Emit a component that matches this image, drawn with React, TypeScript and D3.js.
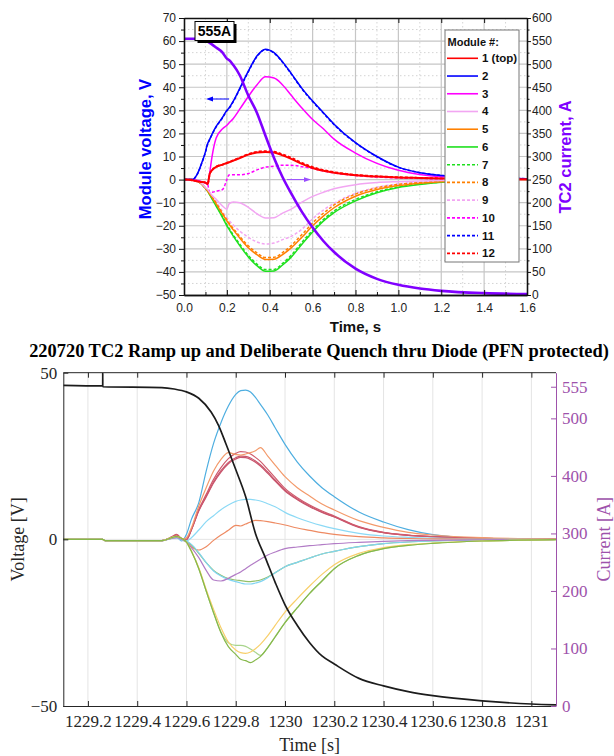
import * as d3 from "d3";
import React, { useEffect, useRef } from "react";

// ---------- top chart: module voltages (V) and TC2 current (A) vs time (s) ----------
const timeTop = [0, 0.04, 0.06, 0.08, 0.1, 0.11, 0.12, 0.13, 0.15, 0.18, 0.2, 0.21, 0.23, 0.26, 0.3, 0.34, 0.38, 0.42, 0.46, 0.5, 0.55, 0.6, 0.65, 0.7, 0.8, 0.9, 1.0, 1.1, 1.2, 1.4, 1.6];

const mod1 = [0, -0.3, -0.7, -1, -1.3, -2, 2.5, 4, 5.5, 6.5, 7.2, 7.5, 8.2, 9.3, 10.8, 11.7, 12, 11.7, 10.5, 9, 6.8, 5, 3.8, 3, 1.9, 1.3, 0.9, 0.7, 0.5, 0.3, 0.1];
const mod2 = [0, 0, 2, 6.5, 12, 15.5, 17.5, 19.5, 23, 27, 30, 31, 34, 39.5, 47, 53.5, 56.5, 55, 51, 46, 39.5, 34, 29, 24, 16, 10, 5.4, 3, 1.8, 0.8, 0.4];
const mod3 = [0, 0, -0.3, -0.8, -1.5, -2, 3, 9.5, 18, 22, 23.5, 24.5, 26.5, 30.5, 36, 41, 44.5, 44, 41, 36.5, 31, 26, 22, 17.5, 11.5, 7, 4, 2.2, 1.2, 0.5, 0.3];
const mod4 = [0, 0, -0.5, -1.5, -3.5, -4.3, -5.5, -6.8, -8.5, -11.5, -12.8, -10.5, -9.7, -10, -12, -14.8, -16.6, -16.5, -14.5, -12.8, -9.8, -7.3, -5.5, -4, -2.2, -1.3, -0.9, -0.6, -0.4, -0.2, -0.1];
const mod5 = [0, 0, -0.5, -1.8, -3.8, -5, -6.3, -7.6, -10.5, -15, -17.9, -19.3, -21.8, -25.3, -29.5, -32.5, -34.6, -34.5, -32.5, -29.6, -25, -20, -15.8, -12.2, -7.2, -4.3, -2.6, -1.6, -0.9, -0.4, -0.2];
const mod6 = [0, 0, -0.5, -1.8, -3.8, -5, -6.6, -8.2, -11.5, -16.5, -20, -21.5, -24.5, -28.6, -33.5, -37.3, -39.7, -39.6, -37, -33.6, -28, -22.7, -18, -14.3, -9.2, -5.7, -3.4, -2.1, -1.2, -0.5, -0.2];
const mod7 = [0, 0, -0.5, -1.7, -3.7, -4.9, -6.4, -8, -11.2, -16.1, -19.6, -21, -24, -28, -32.8, -36.6, -39, -38.9, -36.3, -32.8, -27.2, -22, -17.3, -13.6, -8.6, -5.3, -3.1, -1.9, -1.1, -0.5, -0.2];
const mod8 = [0, 0, -0.5, -1.7, -3.7, -4.9, -6.2, -7.4, -10.2, -14.6, -17.4, -18.8, -21.2, -24.6, -28.7, -31.7, -33.8, -33.7, -31.6, -28.6, -23.8, -18.8, -14.6, -11, -6.3, -3.6, -2.1, -1.3, -0.8, -0.4, -0.2];
const mod9 = [0, 0, -0.5, -1.8, -3.8, -4.6, -5.8, -7.2, -9.6, -14, -16.5, -17.7, -19.7, -22.3, -25, -27, -27.9, -27.5, -26, -24.6, -21.5, -17, -13.2, -10.3, -6, -3.3, -1.9, -1.1, -0.7, -0.3, -0.1];
const mod10 = [0, -0.3, -0.7, -1, -1.3, -2, -5.5, -5.5, -5, -4.3, 0, 2, 2.1, 2.1, 2.6, 4.2, 5.4, 5.8, 6.2, 6.2, 5.6, 4.8, 3.7, 2.9, 1.8, 1.1, 0.7, 0.5, 0.3, 0.2, 0.1];
const mod11 = [0, 0, 2, 6.4, 11.8, 15.3, 17.3, 19.3, 22.8, 26.8, 29.8, 30.8, 33.8, 39.2, 46.7, 53.2, 56.3, 54.8, 50.8, 45.8, 39.3, 33.8, 28.8, 23.8, 15.9, 9.9, 5.3, 3, 1.8, 0.8, 0.4];
const mod12 = [0, -0.3, -0.7, -1, -1.3, -2, 2.5, 4, 5.5, 6.5, 7.2, 7.6, 8.3, 9.5, 11, 12, 12.3, 12.1, 10.9, 9.4, 7.2, 5.4, 4.1, 3.2, 2, 1.4, 1, 0.7, 0.5, 0.3, 0.1];
const currentTop = [555, 555, 555, 554, 551, 549, 546, 543, 536, 525, 512, 509, 498, 476, 432, 395, 345, 297, 255, 220, 180, 146, 117, 93, 57, 35, 22, 14, 9, 4, 2];

const moduleLabels = ["1 (top)", "2", "3", "4", "5", "6", "7", "8", "9", "10", "11", "12"];
const topTicksX = [0, 0.2, 0.4, 0.6, 0.8, 1.0, 1.2, 1.4, 1.6];
const topTicksV = [-50, -40, -30, -20, -10, 0, 10, 20, 30, 40, 50, 60, 70];
const topTicksI = [0, 50, 100, 150, 200, 250, 300, 350, 400, 450, 500, 550, 600];

// ---------- bottom chart: 220720 TC2 quench ----------
const timeBot = [1229.1, 1229.26, 1229.27, 1229.5, 1229.54, 1229.56, 1229.58, 1229.6, 1229.62, 1229.65, 1229.68, 1229.71, 1229.74, 1229.77, 1229.8, 1229.82, 1229.84, 1229.86, 1229.88, 1229.9, 1229.93, 1229.96, 1230.0, 1230.05, 1230.1, 1230.15, 1230.2, 1230.3, 1230.4, 1230.5, 1230.6, 1230.8, 1231.1];

const bBlue = [0, 0, -0.4, -0.4, 0.5, 0.8, -0.5, 1.5, 6, 11, 20.5, 28.8, 35, 40, 43.5, 44.6, 44.8, 44.2, 42.6, 40.5, 37.3, 33.5, 28.5, 23.2, 19, 15.5, 12.8, 8.2, 5.2, 2.9, 1.4, 0.3, 0.05];
const bOrangeHi = [0, 0, -0.4, -0.4, 0.6, 1.0, 0, 0.5, 3.5, 10, 15.5, 20.5, 24, 26, 25.5, 25.3, 25.6, 26, 26.6, 27.5, 25, 22.3, 18.8, 15.5, 13, 10.6, 8.8, 5.6, 3.6, 2.1, 1.3, 0.5, 0.1];
const bRed1 = [0, 0, -0.4, -0.4, 0.8, 1.5, 0.3, 0, 3, 9, 13.5, 18, 21.5, 24.2, 25.8, 26.3, 26.2, 25.6, 24.6, 23.4, 21, 18.5, 15.3, 12.5, 10.3, 8.5, 7, 3.8, 2.1, 1.3, 0.8, 0.3, 0.05];
const bRed2 = [0, 0, -0.4, -0.4, 0.7, 1.3, 0.2, 0, 2.9, 8.7, 13, 17.3, 20.6, 23.1, 24.5, 25, 24.9, 24.4, 23.5, 22.4, 20.2, 17.8, 14.8, 12.1, 10, 8.2, 6.8, 3.7, 2, 1.2, 0.8, 0.3, 0.05];
const bRed3 = [0, 0, -0.4, -0.4, 0.6, 1.2, 0.1, -0.1, 2.8, 8.5, 12.7, 16.9, 20.2, 22.7, 24.1, 24.6, 24.5, 24, 23.1, 22, 19.8, 17.5, 14.5, 11.9, 9.8, 8.1, 6.7, 3.6, 2, 1.2, 0.8, 0.3, 0.05];
const bCyanHi = [0, 0, -0.4, -0.4, 0.3, 0.5, -0.3, -0.5, 0.5, 2.8, 5.3, 7.1, 8.9, 10.3, 11.4, 11.8, 12, 12, 11.8, 11.5, 10.7, 9.8, 8.1, 6.5, 5.2, 4.1, 3.2, 1.8, 1, 0.6, 0.35, 0.1, 0];
const bOrangeLo = [0, 0, -0.4, -0.4, 0.5, 0.8, 0, -0.8, -2.2, -3.2, -2.2, -0.3, 1.3, 2.7, 4.2, 4.0, 4.6, 5.2, 5.7, 5.6, 5.3, 4.9, 4.3, 3.4, 2.7, 2.0, 1.5, 0.8, 0.45, 0.25, 0.15, 0.05, 0];
const bPurple = [0, 0, -0.4, -0.4, 0.3, 0.5, 0, -0.8, -2.5, -5.5, -9.3, -12.2, -12.5, -11.7, -10.5, -9.8, -8.8, -7.8, -6.9, -6, -4.7, -3.8, -2.8, -2.3, -1.9, -1.6, -1.3, -0.9, -0.6, -0.4, -0.3, -0.15, -0.05];
const bCyanLo = [0, 0, -0.4, -0.4, 0.3, 0.4, -0.2, -0.5, -1.5, -4, -7, -9.5, -11, -12, -12.7, -13.1, -13.4, -13.4, -13.1, -12.7, -11.5, -10, -8.2, -6.9, -5.6, -4.4, -3.6, -2.2, -1.3, -0.8, -0.5, -0.2, -0.05];
const bOlive = [0, 0, -0.4, -0.4, 0.5, 0.8, 0.1, -0.6, -1.7, -4.2, -7, -9.3, -10.8, -11.8, -12.2, -12.4, -12.6, -12.7, -12.5, -12.2, -11.3, -10, -8.2, -6.9, -5.6, -4.4, -3.6, -2.2, -1.3, -0.8, -0.5, -0.2, -0.05];
const bYellow = [0, 0, -0.4, -0.4, 0.5, 0.9, 0.3, -0.8, -3.5, -8.5, -15, -21, -26.5, -30.8, -33.2, -34, -34.2, -33.8, -32.8, -31.5, -28.9, -25.8, -21.8, -17.8, -14, -10.5, -7.6, -4.2, -2.5, -1.6, -1.1, -0.5, -0.1];
const bGreen = [0, 0, -0.4, -0.4, 0.5, 0.9, 0.3, -0.8, -3.6, -8.8, -15.5, -22, -28, -32.2, -34.5, -36, -36.4, -37, -36.2, -35.2, -32.5, -29.3, -25, -20.5, -16.2, -12.5, -8.8, -4.8, -2.8, -1.8, -1.2, -0.5, -0.1];
const bLightGreen = [0, 0, -0.4, -0.4, 0.5, 0.9, 0.3, -0.8, -3.6, -8.8, -15.5, -22, -27.8, -31, -31.8, -31.8, -32.1, -32.9, -33.9, -34.8, -32.4, -29.2, -25, -20.5, -16.2, -12.5, -8.8, -4.8, -2.8, -1.8, -1.2, -0.5, -0.1];

const timeCur = [1229.1, 1229.26, 1229.2601, 1229.2602, 1229.5, 1229.55, 1229.6, 1229.65, 1229.7, 1229.73, 1229.76, 1229.8, 1229.84, 1229.88, 1229.92, 1229.96, 1230.0, 1230.05, 1230.1, 1230.15, 1230.2, 1230.3, 1230.4, 1230.5, 1230.6, 1230.8, 1231.0, 1231.1];
const currentBot = [557.5, 556.5, 579, 555, 553.5, 551, 546, 535, 511, 488, 456, 411, 364, 300, 258, 215, 176, 140, 110, 87, 73, 48, 35, 25, 18, 9, 3.5, 2];

const botTicksX = [1229.2, 1229.4, 1229.6, 1229.8, 1230, 1230.2, 1230.4, 1230.6, 1230.8, 1231];
const botTicksV = [-50, 0, 50];
const botTicksI = [0, 100, 200, 300, 400, 500, 555];

const SANS = "'Liberation Sans', Arial, sans-serif";
const SERIF = "'Liberation Serif', 'Times New Roman', serif";

function drawTop(svg) {
  const L = 184, R = 527, T = 18, B = 295;
  const x = d3.scaleLinear().domain([0, 1.6]).range([L, R]);
  const yV = d3.scaleLinear().domain([-50, 70]).range([B, T]);
  const yI = d3.scaleLinear().domain([0, 600]).range([B, T]);

  const g = svg.append("g");

  // grid: minor dotted, major solid
  g.selectAll(".minx").data(d3.range(1, 16, 2).map((d) => d / 10)).join("line")
    .attr("x1", (d) => x(d)).attr("x2", (d) => x(d)).attr("y1", T).attr("y2", B)
    .attr("stroke", "#d4d4d4").attr("stroke-dasharray", "1.5,2.5");
  g.selectAll(".miny").data(d3.range(-45, 70, 10)).join("line")
    .attr("x1", L).attr("x2", R).attr("y1", (d) => yV(d)).attr("y2", (d) => yV(d))
    .attr("stroke", "#d4d4d4").attr("stroke-dasharray", "1.5,2.5");
  g.selectAll(".majx").data(topTicksX.slice(1, -1)).join("line")
    .attr("x1", (d) => x(d)).attr("x2", (d) => x(d)).attr("y1", T).attr("y2", B)
    .attr("stroke", "#c6c6c6").attr("stroke-width", 1.2);
  g.selectAll(".majy").data(topTicksV.slice(1, -1)).join("line")
    .attr("x1", L).attr("x2", R).attr("y1", (d) => yV(d)).attr("y2", (d) => yV(d))
    .attr("stroke", "#c6c6c6").attr("stroke-width", 1.2);

  // clip
  svg.append("defs").append("clipPath").attr("id", "clipTop")
    .append("rect").attr("x", L).attr("y", T).attr("width", R - L).attr("height", B - T);

  const series = [
    { v: mod1, c: "#ff0000", dash: null, w: 2 },
    { v: mod2, c: "#0000ff", dash: null, w: 1.5 },
    { v: mod3, c: "#ff00ff", dash: null, w: 1.5 },
    { v: mod4, c: "#f2a6f2", dash: null, w: 1.5 },
    { v: mod5, c: "#ff8000", dash: null, w: 1.5 },
    { v: mod6, c: "#1ee01e", dash: null, w: 1.5 },
    { v: mod7, c: "#1ee01e", dash: "3,2", w: 1.5 },
    { v: mod8, c: "#ff8000", dash: "3,2", w: 1.5 },
    { v: mod9, c: "#f2a6f2", dash: "3,2", w: 1.5 },
    { v: mod10, c: "#ff00ff", dash: "3,2", w: 1.5 },
    { v: mod11, c: "#0000ff", dash: "3,2", w: 1.5 },
    { v: mod12, c: "#ff0000", dash: "3,2", w: 2 },
  ];

  const lineV = d3.line().x((d, i) => x(timeTop[i])).y((d) => yV(d)).curve(d3.curveMonotoneX);
  const lines = g.append("g").attr("clip-path", "url(#clipTop)");
  series.slice().reverse().forEach((s) => {
    lines.append("path").attr("d", lineV(s.v)).attr("fill", "none")
      .attr("stroke", s.c).attr("stroke-width", s.w)
      .attr("stroke-dasharray", s.dash);
  });
  const lineI = d3.line().x((d, i) => x(timeTop[i])).y((d) => yI(d)).curve(d3.curveMonotoneX);
  lines.append("path").attr("d", lineI(currentTop)).attr("fill", "none")
    .attr("stroke", "#8000ff").attr("stroke-width", 2.6);

  // axes
  const font = (sel) => sel.selectAll("text").attr("font-family", SANS).attr("font-size", 12).attr("fill", "#222");
  const dark = (sel) => { sel.selectAll("line").attr("stroke", "#111"); sel.select(".domain").attr("stroke", "#111").attr("stroke-width", 1.3); };

  const ax = g.append("g").attr("transform", `translate(0,${B})`)
    .call(d3.axisBottom(x).tickValues(topTicksX).tickFormat(d3.format(".1f")).tickSize(-5).tickSizeOuter(0).tickPadding(8));
  font(ax); dark(ax);
  g.append("g").attr("transform", `translate(0,${B})`)
    .call(d3.axisBottom(x).tickValues(d3.range(1, 16, 2).map((d) => d / 10)).tickFormat(() => "").tickSize(-3).tickSizeOuter(0))
    .call(dark);
  g.append("g").attr("transform", `translate(0,${T})`)
    .call(d3.axisTop(x).tickValues(topTicksX).tickFormat(() => "").tickSize(-5).tickSizeOuter(0))
    .call(dark);

  const ayl = g.append("g").attr("transform", `translate(${L},0)`)
    .call(d3.axisLeft(yV).tickValues(topTicksV).tickSize(5).tickSizeOuter(0).tickPadding(3));
  font(ayl); dark(ayl);
  g.append("g").attr("transform", `translate(${L},0)`)
    .call(d3.axisLeft(yV).tickValues(d3.range(-45, 70, 10)).tickFormat(() => "").tickSize(3).tickSizeOuter(0))
    .call(dark);

  const ayr = g.append("g").attr("transform", `translate(${R},0)`)
    .call(d3.axisRight(yI).tickValues(topTicksI).tickSize(4).tickSizeOuter(0).tickPadding(1));
  font(ayr); dark(ayr);
  g.append("g").attr("transform", `translate(${R},0)`)
    .call(d3.axisRight(yI).tickValues(d3.range(25, 600, 50)).tickFormat(() => "").tickSize(2.5).tickSizeOuter(0))
    .call(dark);

  // axis titles
  g.append("text").attr("transform", "translate(151,149) rotate(-90)").attr("text-anchor", "middle")
    .attr("font-family", SANS).attr("font-weight", "bold").attr("font-size", 16.5).attr("fill", "#0000ff")
    .text("Module voltage, V");
  g.append("text").attr("transform", "translate(571,157) rotate(-90)").attr("text-anchor", "middle")
    .attr("font-family", SANS).attr("font-weight", "bold").attr("font-size", 16.5).attr("fill", "#8000ff")
    .text("TC2 current, A");
  g.append("text").attr("x", (L + R) / 2).attr("y", 332).attr("text-anchor", "middle")
    .attr("font-family", SANS).attr("font-weight", "bold").attr("font-size", 15).attr("fill", "#111")
    .text("Time, s");

  // 555A box
  g.append("rect").attr("x", 197.5).attr("y", 24).attr("width", 39).attr("height", 19).attr("fill", "#000");
  g.append("rect").attr("x", 195).attr("y", 21.5).attr("width", 39).attr("height", 19)
    .attr("fill", "#fff").attr("stroke", "#000").attr("stroke-width", 1);
  g.append("text").attr("x", 214.5).attr("y", 36).attr("text-anchor", "middle")
    .attr("font-family", SANS).attr("font-weight", "bold").attr("font-size", 14).attr("fill", "#000").text("555A");

  // arrows (which axis each group belongs to)
  g.append("line").attr("x1", 229).attr("x2", 211).attr("y1", 99).attr("y2", 99).attr("stroke", "#0000ff");
  g.append("path").attr("d", "M206,99L213,96.6L213,101.4Z").attr("fill", "#0000ff");
  g.append("line").attr("x1", 287).attr("x2", 306).attr("y1", yV(0)).attr("y2", yV(0)).attr("stroke", "#9a4dff");
  g.append("path").attr("d", `M311,${yV(0)}L304,${yV(0) - 2.4}L304,${yV(0) + 2.4}Z`).attr("fill", "#9a4dff");

  // legend
  const lg = g.append("g");
  lg.append("rect").attr("x", 445).attr("y", 30).attr("width", 74).attr("height", 232)
    .attr("fill", "#fff").attr("stroke", "#777").attr("stroke-width", 1);
  lg.append("text").attr("x", 447.5).attr("y", 45.5).attr("font-family", SANS).attr("font-weight", "bold")
    .attr("font-size", 11).attr("fill", "#111").text("Module #:");
  series.forEach((s, i) => {
    const yy = 58.3 + i * 17.73;
    lg.append("line").attr("x1", 447).attr("x2", 478).attr("y1", yy).attr("y2", yy)
      .attr("stroke", s.c).attr("stroke-width", 1.6).attr("stroke-dasharray", s.dash);
    lg.append("text").attr("x", 482).attr("y", yy + 4).attr("font-family", SANS).attr("font-weight", "bold")
      .attr("font-size", 11.5).attr("fill", "#111").text(moduleLabels[i]);
  });
}

function drawBottom(svg) {
  const L = 63.3, R = 556, T = 372.7, B = 706;
  const x = d3.scaleLinear().domain([1229.1, 1231.1]).range([L, R]);
  const yV = d3.scaleLinear().domain([-50, 50]).range([B, T]);
  const yI = d3.scaleLinear().domain([0, 579.4]).range([B, T]);
  const purple = "#9e52ab";

  const g = svg.append("g");

  g.selectAll(".gx").data(botTicksX).join("line")
    .attr("x1", (d) => x(d)).attr("x2", (d) => x(d)).attr("y1", T).attr("y2", B)
    .attr("stroke", "#e4e4e4").attr("stroke-width", 1);
  g.append("line").attr("x1", L).attr("x2", R).attr("y1", yV(0)).attr("y2", yV(0))
    .attr("stroke", "#e4e4e4").attr("stroke-width", 1);

  svg.select("defs").append("clipPath").attr("id", "clipBot")
    .append("rect").attr("x", L).attr("y", T).attr("width", R - L).attr("height", B - T);

  const series = [
    { v: bBlue, c: "#4eaee0" },
    { v: bRed3, c: "#c9566d" },
    { v: bRed2, c: "#c9566d" },
    { v: bRed1, c: "#cf5a6c" },
    { v: bOrangeHi, c: "#f39a6b" },
    { v: bCyanHi, c: "#8bd9f5" },
    { v: bOrangeLo, c: "#ee8a62" },
    { v: bOlive, c: "#93c06a" },
    { v: bCyanLo, c: "#80d4f2" },
    { v: bPurple, c: "#b27cc6" },
    { v: bLightGreen, c: "#a8d48c" },
    { v: bYellow, c: "#f8cf6a" },
    { v: bGreen, c: "#86b84a" },
  ];
  const lineV = d3.line().x((d, i) => x(timeBot[i])).y((d) => yV(d)).curve(d3.curveMonotoneX);
  const lines = g.append("g").attr("clip-path", "url(#clipBot)");
  series.forEach((s) => {
    lines.append("path").attr("d", lineV(s.v)).attr("fill", "none")
      .attr("stroke", s.c).attr("stroke-width", 1.2);
  });
  const lineI = d3.line().x((d, i) => x(timeCur[i])).y((d) => yI(d)).curve(d3.curveMonotoneX);
  lines.append("path").attr("d", lineI(currentBot)).attr("fill", "none")
    .attr("stroke", "#1c1c1c").attr("stroke-width", 1.7);

  const font = (sel, col) => sel.selectAll("text").attr("font-family", SERIF).attr("font-size", 17).attr("fill", col);
  const col = (sel, c) => { sel.selectAll("line").attr("stroke", c); sel.select(".domain").attr("stroke", c).attr("stroke-width", 1); };

  const ax = g.append("g").attr("transform", `translate(0,${B})`)
    .call(d3.axisBottom(x).tickValues(botTicksX).tickFormat((d) => String(+d.toFixed(1))).tickSize(-5).tickSizeOuter(0).tickPadding(9));
  font(ax, "#262626"); col(ax, "#262626");
  ax.select(".domain").attr("d", `M${L},0.5H${R}`);
  g.append("g").attr("transform", `translate(0,${T})`)
    .call(d3.axisTop(x).tickValues(botTicksX).tickFormat(() => "").tickSize(-5).tickSizeOuter(0))
    .call((s) => col(s, "#262626"))
    .select(".domain").attr("d", `M${L},0H${R}`);

  const ayl = g.append("g").attr("transform", `translate(${L},0)`)
    .call(d3.axisLeft(yV).tickValues(botTicksV).tickSize(-5).tickSizeOuter(0).tickPadding(6));
  font(ayl, "#262626"); col(ayl, "#262626");

  const ayr = g.append("g").attr("transform", `translate(${R},0)`)
    .call(d3.axisRight(yI).tickValues(botTicksI).tickSize(-5).tickSizeOuter(0).tickPadding(6));
  font(ayr, purple); col(ayr, purple);

  g.append("text").attr("x", 319).attr("y", 357).attr("text-anchor", "middle")
    .attr("font-family", SERIF).attr("font-weight", "bold").attr("font-size", 18.4).attr("fill", "#000")
    .text("220720 TC2 Ramp up and Deliberate Quench thru Diode (PFN protected)");
  g.append("text").attr("transform", `translate(24,${(T + B) / 2}) rotate(-90)`).attr("text-anchor", "middle")
    .attr("font-family", SERIF).attr("font-size", 18).attr("fill", "#262626").text("Voltage [V]");
  g.append("text").attr("transform", `translate(610,${(T + B) / 2}) rotate(-90)`).attr("text-anchor", "middle")
    .attr("font-family", SERIF).attr("font-size", 18).attr("fill", purple).text("Current [A]");
  g.append("text").attr("x", (L + R) / 2).attr("y", 751).attr("text-anchor", "middle")
    .attr("font-family", SERIF).attr("font-size", 18).attr("fill", "#262626").text("Time [s]");
}

export default function App() {
  const svgRef = useRef(null);

  useEffect(() => {
    const svg = d3.select(svgRef.current);
    svg.selectAll("*").remove();
    drawTop(svg);
    drawBottom(svg);
  }, []);

  return (
    <svg ref={svgRef} width={614} height={756}
      style={{ position: "absolute", left: 0, top: 0, background: "#fff" }}></svg>
  );
}
